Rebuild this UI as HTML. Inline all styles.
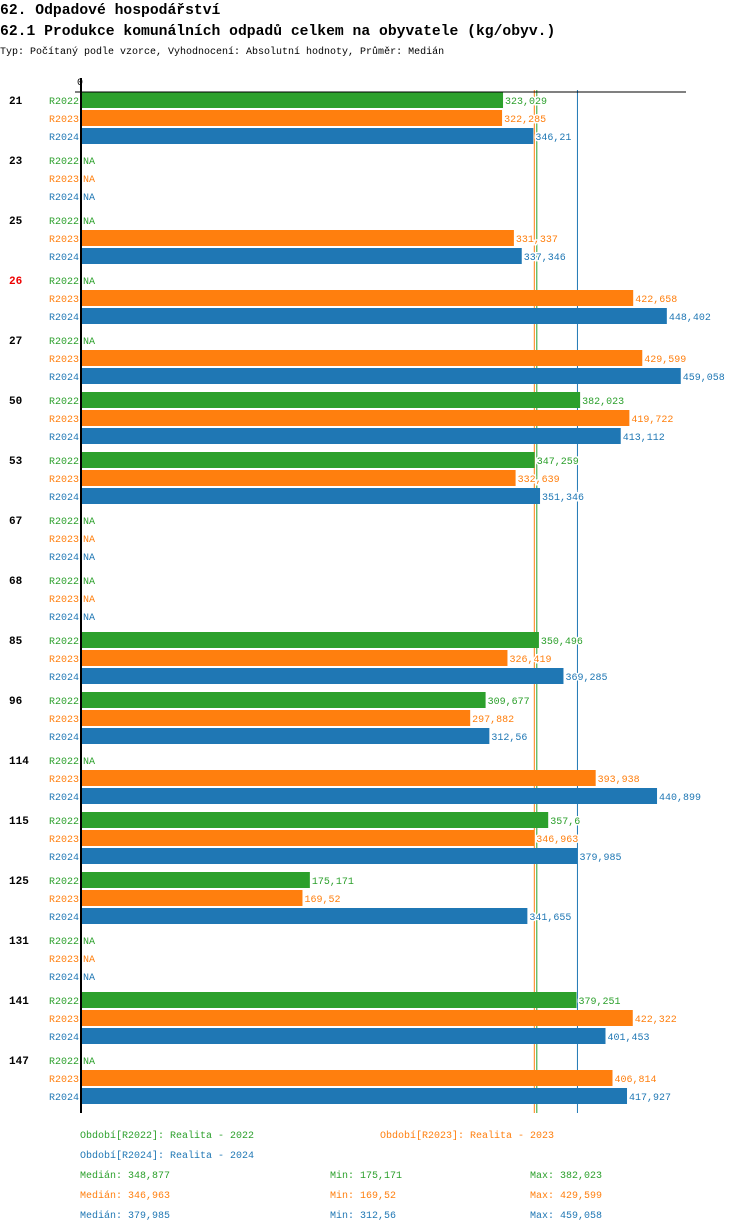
<!DOCTYPE html>
<html><head><meta charset="utf-8"><style>
body{margin:0;background:#fff;width:750px;height:1232px;overflow:hidden}
svg{display:block;font-family:"Liberation Mono",monospace}
</style></head><body>
<svg id="c" width="750" height="1232" xmlns="http://www.w3.org/2000/svg">
<text x="0" y="14" font-size="14.7" font-weight="bold">62. Odpadové hospodářství</text>
<text x="0" y="35" font-size="14.7" font-weight="bold">62.1 Produkce komunálních odpadů celkem na obyvatele (kg/obyv.)</text>
<text x="0" y="54" font-size="10">Typ: Počítaný podle vzorce, Vyhodnocení: Absolutní hodnoty, Průměr: Medián</text>
<text x="80" y="85" font-size="10" text-anchor="middle">0</text>
<g id="medians"></g>
<g id="bars"></g>
<line x1="75" y1="92" x2="686" y2="92" stroke="#000" stroke-width="1"/>
<line x1="81" y1="78" x2="81" y2="1113" stroke="#000" stroke-width="2"/>
<g font-size="10">
<text x="80" y="1138" fill="#2ca02c">Období[R2022]: Realita - 2022</text>
<text x="380" y="1138" fill="#ff7f0e">Období[R2023]: Realita - 2023</text>
<text x="80" y="1158" fill="#1f77b4">Období[R2024]: Realita - 2024</text>
<text x="80" y="1178" fill="#2ca02c">Medián: 348,877</text>
<text x="330" y="1178" fill="#2ca02c">Min: 175,171</text>
<text x="530" y="1178" fill="#2ca02c">Max: 382,023</text>
<text x="80" y="1198" fill="#ff7f0e">Medián: 346,963</text>
<text x="330" y="1198" fill="#ff7f0e">Min: 169,52</text>
<text x="530" y="1198" fill="#ff7f0e">Max: 429,599</text>
<text x="80" y="1218" fill="#1f77b4">Medián: 379,985</text>
<text x="330" y="1218" fill="#1f77b4">Min: 312,56</text>
<text x="530" y="1218" fill="#1f77b4">Max: 459,058</text>
</g>
</svg>
<script>
const categories=["21","23","25","26","27","50","53","67","68","85","96","114","115","125","131","141","147"];
const seriesNames=["R2022","R2023","R2024"];
const r2022=[323.029,null,null,null,null,382.023,347.259,null,null,350.496,309.677,null,357.6,175.171,null,379.251,null];
const r2023=[322.285,null,331.337,422.658,429.599,419.722,332.639,null,null,326.419,297.882,393.938,346.963,169.52,null,422.322,406.814];
const r2024=[346.21,null,337.346,448.402,459.058,413.112,351.346,null,null,369.285,312.56,440.899,379.985,341.655,null,401.453,417.927];
const medians=[348.877,346.963,379.985];
const highlighted=["26"];
const colors=["#2ca02c","#ff7f0e","#1f77b4"];
const NS="http://www.w3.org/2000/svg";
const g=document.getElementById('bars');
const gm=document.getElementById('medians');
const x=v=>81+v*1.3065;
const y=(i,s)=>100+i*60+s*18;
function mk(t,a,p){const e=document.createElementNS(NS,t);for(const k in a)e.setAttribute(k,a[k]);(p||g).appendChild(e);return e;}
const fmt=v=>String(v).replace('.',',');
const data=[r2022,r2023,r2024];
medians.forEach((m,s)=>{
  const l=mk('line',{x1:x(m),x2:x(m),y1:90,y2:1113,stroke:colors[s],'stroke-width':1},gm);
  
  
});
categories.forEach((c,i)=>{
  const t=mk('text',{x:9,y:y(i,0)+4,'font-size':11,'font-weight':'bold',fill:highlighted.includes(c)?'#e00':'#000'});
  
  
  t.textContent=c;
  data.forEach((arr,s)=>{
    const yy=y(i,s);
    const l=mk('text',{x:79,y:yy+4,'font-size':10,'text-anchor':'end',fill:colors[s]});
    
    
    l.textContent=seriesNames[s];
    const v=arr[i];
    if(v!==null){
      const r=mk('rect',{x:81,y:yy-8,width:x(v)-81,height:16,fill:colors[s]});
      
      
    }
    const vt=mk('text',{x:(v===null?81:x(v))+2,y:yy+4,'font-size':10,fill:colors[s],stroke:'#fff','stroke-width':3,'paint-order':'stroke'});
    
    
    vt.textContent=v===null?'NA':fmt(v);
  });
});
</script>
</body></html>
